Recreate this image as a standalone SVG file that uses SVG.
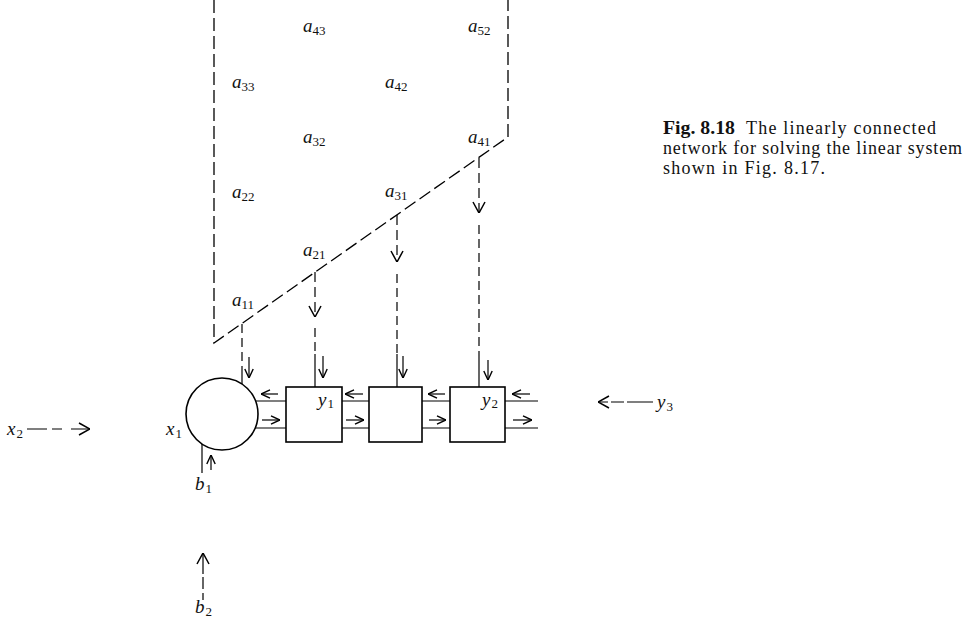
<svg xmlns="http://www.w3.org/2000/svg" width="965" height="628" viewBox="0 0 965 628">
<style>
.frame{fill:none;stroke:#000;stroke-width:1.3;stroke-dasharray:13 5}
.drop{fill:none;stroke:#000;stroke-width:1.2;stroke-dasharray:9 5}
.ln{fill:none;stroke:#000;stroke-width:1.2}
.ar{fill:none;stroke:#000;stroke-width:1.2;marker-end:url(#ah)}
.dar{fill:none;stroke:#000;stroke-width:1.2;stroke-dasharray:10 5;marker-end:url(#ahl)}
.node{fill:#fff;stroke:#000;stroke-width:1.6}
.v{font-family:"Liberation Serif","Times New Roman",serif;font-style:italic;font-size:19px;fill:#111}
.s{font-size:13px;font-style:normal}
.cap{font-family:"Liberation Serif","Times New Roman",serif;font-size:18px;fill:#111}
.b{font-weight:bold}
</style>
<defs>
<marker id="ah" viewBox="0 0 10 10" refX="10" refY="5" markerWidth="10" markerHeight="10" orient="auto" markerUnits="userSpaceOnUse">
<path d="M1,0.8 L10,5 L1,9.2" fill="none" stroke="#000" stroke-width="1.4"/>
</marker>
<marker id="ahl" viewBox="0 0 12 14" refX="12" refY="7" markerWidth="12" markerHeight="14" orient="auto" markerUnits="userSpaceOnUse">
<path d="M1,1 L12,7 L1,13" fill="none" stroke="#000" stroke-width="1.5"/>
</marker>
</defs>
<rect width="965" height="628" fill="#fff"/>

<g id="frame">
<path class="frame" d="M214,0 L214,343 L508,137 L508,0"/>
</g>

<g id="coefficients">
<text class="v" x="303" y="32">a<tspan class="s" dy="3">43</tspan></text>
<text class="v" x="468" y="32">a<tspan class="s" dy="3">52</tspan></text>
<text class="v" x="232" y="88">a<tspan class="s" dy="3">33</tspan></text>
<text class="v" x="385" y="88">a<tspan class="s" dy="3">42</tspan></text>
<text class="v" x="303" y="143">a<tspan class="s" dy="3">32</tspan></text>
<text class="v" x="468" y="143">a<tspan class="s" dy="3">41</tspan></text>
<text class="v" x="232" y="198">a<tspan class="s" dy="3">22</tspan></text>
<text class="v" x="385" y="197">a<tspan class="s" dy="3">31</tspan></text>
<text class="v" x="303" y="256">a<tspan class="s" dy="3">21</tspan></text>
<text class="v" x="232" y="306">a<tspan class="s" dy="3">11</tspan></text>
</g>

<g id="connectors">
<path class="drop" d="M242,324 L242,367"/>
<path class="ln" d="M242,367 L242,384"/>
<path class="ar" d="M249,357 L249,378"/>
<path class="dar" d="M315,272 L315,317"/>
<path class="drop" d="M315,328 L315,354"/>
<path class="ln" d="M315,354 L315,387"/>
<path class="ar" d="M323,356 L323,378"/>
<path class="dar" d="M397,215 L397,262"/>
<path class="drop" d="M397,274 L397,354"/>
<path class="ln" d="M397,354 L397,387"/>
<path class="ar" d="M403,356 L403,378"/>
<path class="dar" d="M479,158 L479,213"/>
<path class="drop" d="M479,225 L479,356"/>
<path class="ln" d="M479,356 L479,387"/>
<path class="ar" d="M488,360 L488,380"/>
<path class="ln" d="M256,401 L286,401 M342,401 L369,401 M422,401 L450,401 M505,401 L538,401"/>
<path class="ln" d="M255,428 L286,428 M342,428 L369,428 M422,428 L450,428 M505,428 L538,428"/>
<path class="ar" d="M278,394 L261,394"/>
<path class="ar" d="M363,394 L345,394"/>
<path class="ar" d="M445,394 L428,394"/>
<path class="ar" d="M530,394 L512,394"/>
<path class="ar" d="M262,420 L280,420"/>
<path class="ar" d="M346,420 L364,420"/>
<path class="ar" d="M429,420 L446,420"/>
<path class="ar" d="M513,420 L532,420"/>
<path class="ln" d="M202,444 L202,473"/>
<path class="ar" d="M211,470 L211,455"/>
<path class="dar" d="M203,600 L203,553" style="stroke-dasharray:7 4 12 3 30"/>
<path class="dar" d="M27,429 L90,429" style="stroke-dasharray:20 5 10 9 40"/>
<path class="dar" d="M653,402 L598,402" style="stroke-dasharray:26 3 13 3 30"/>
</g>

<g id="node-x1">
<circle class="node" cx="222" cy="414" r="36"/>
<text class="v" x="166" y="435">x<tspan class="s" dx="1" dy="3">1</tspan></text>
</g>

<g id="node-box1">
<rect class="node" x="286" y="387" width="56" height="55"/>
<text class="v" x="318" y="406">y<tspan class="s" dx="1" dy="2">1</tspan></text>
</g>

<g id="node-box2">
<rect class="node" x="369" y="387" width="53" height="55"/>
</g>

<g id="node-box3">
<rect class="node" x="450" y="387" width="55" height="55"/>
<text class="v" x="482" y="406">y<tspan class="s" dx="1" dy="2">2</tspan></text>
</g>

<g id="labels">
<text class="v" x="7" y="435">x<tspan class="s" dx="1" dy="3">2</tspan></text>
<text class="v" x="657" y="408">y<tspan class="s" dx="1" dy="3">3</tspan></text>
<text class="v" x="195" y="490">b<tspan class="s" dx="1" dy="3">1</tspan></text>
<text class="v" x="195" y="613">b<tspan class="s" dx="1" dy="3">2</tspan></text>
</g>

<g id="caption">
<text class="cap b" x="663" y="134" textLength="72" lengthAdjust="spacingAndGlyphs">Fig. 8.18</text>
<text class="cap" x="746" y="134" textLength="190" lengthAdjust="spacing">The linearly connected</text>
<text class="cap" x="663" y="154" textLength="299" lengthAdjust="spacing">network for solving the linear system</text>
<text class="cap" x="663" y="174" textLength="162" lengthAdjust="spacing">shown in Fig. 8.17.</text>
</g>
</svg>
